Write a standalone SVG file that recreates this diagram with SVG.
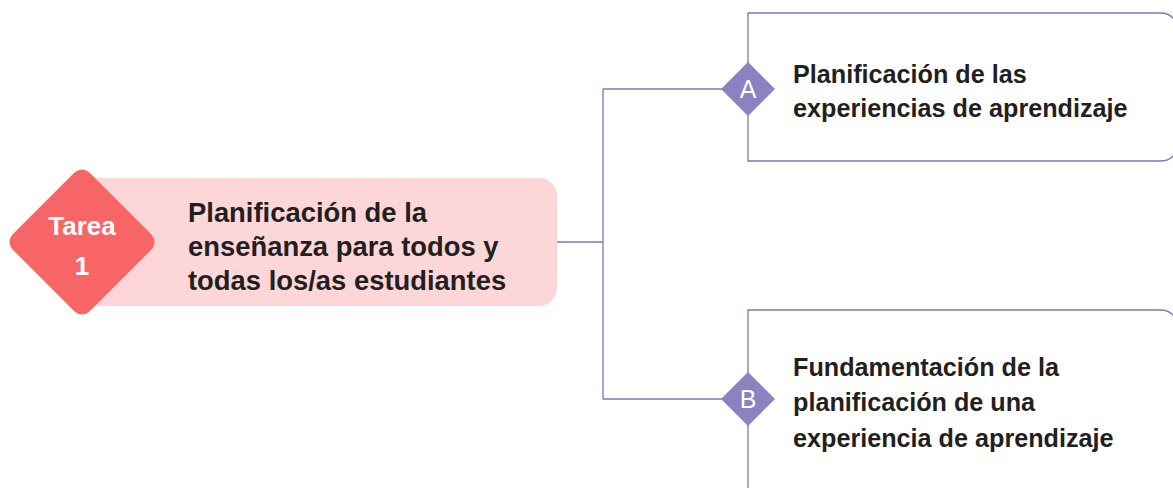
<svg xmlns="http://www.w3.org/2000/svg" width="1173" height="488" viewBox="0 0 1173 488">
<style>
.t{font-family:"Liberation Sans",Arial,sans-serif;font-weight:bold;fill:#231f20}
.w{font-family:"Liberation Sans",Arial,sans-serif;fill:#ffffff}
.line{fill:none;stroke:#7f77c0;stroke-width:1.3}
.box{fill:#ffffff;stroke:#7f77c0;stroke-width:1.3}
.dia{fill:#8b82c1}
</style>
<rect width="1173" height="488" fill="#ffffff"/>
<g id="connectors">
<path class="line" d="M557 242 H603 M603 89 V399 M603 89 H722 M603 399 H722"/>
</g>
<g id="tarea1">
<rect x="70" y="178" width="487" height="128" rx="18" fill="#fdd7d8"/>
<path d="M73 174 Q82 165 91 174 L150 233 Q159 242 150 251 L91 310 Q82 319 73 310 L14 251 Q5 242 14 233 Z" fill="#f86566"/>
<text class="w" x="82" y="235" font-size="26" font-weight="bold" text-anchor="middle">Tarea</text>
<text class="w" x="82" y="275" font-size="26" font-weight="bold" text-anchor="middle">1</text>
<text class="t" font-size="27.4"><tspan x="188" y="222">Planificación de la</tspan><tspan x="188" y="256">enseñanza para todos y</tspan><tspan x="188" y="290">todas los/as estudiantes</tspan></text>
</g>
<g id="nodeA">
<path class="box" d="M748 13 H1160 Q1176 13 1176 29 V145 Q1176 161 1160 161 H748 Z"/>
<path class="dia" d="M748 62 L775 89 L748 116 L721 89 Z"/>
<text class="w" x="748" y="98" font-size="25" text-anchor="middle">A</text>
<text class="t" font-size="25.2"><tspan x="793" y="83">Planificación de las</tspan><tspan x="793" y="117">experiencias de aprendizaje</tspan></text>
</g>
<g id="nodeB">
<path class="box" d="M748 500 V310 H1160 Q1176 310 1176 326 V500"/>
<path class="dia" d="M748 372 L775 399 L748 426 L721 399 Z"/>
<text class="w" x="748" y="408" font-size="25" text-anchor="middle">B</text>
<text class="t" font-size="25.2"><tspan x="793" y="376">Fundamentación de la</tspan><tspan x="793" y="411">planificación de una</tspan><tspan x="793" y="447">experiencia de aprendizaje</tspan></text>
</g>
</svg>
